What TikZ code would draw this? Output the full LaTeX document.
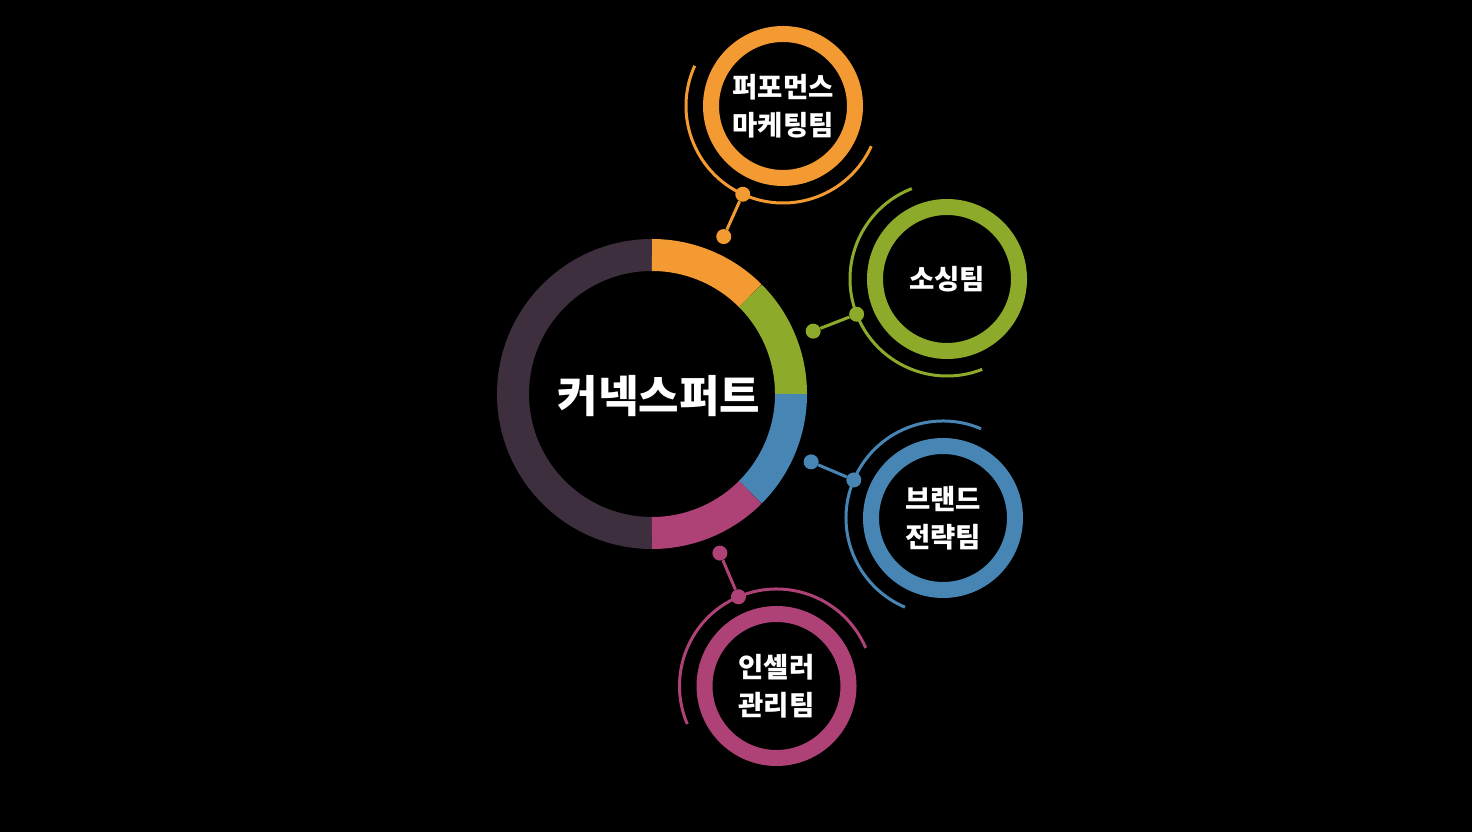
\documentclass[tikz,border=0pt]{standalone}
\usepackage{fontspec}
\newfontfamily\kr{Noto Sans CJK KR}
\usetikzlibrary{calc}
\definecolor{cOr}{HTML}{F39A32}
\definecolor{cGr}{HTML}{8DAA2A}
\definecolor{cBl}{HTML}{4786B4}
\definecolor{cMg}{HTML}{AE4276}
\definecolor{cDk}{HTML}{3D2F3E}
\tikzset{
  seg/.style={line width=32pt},
  ring/.style={circle, line width=16pt, minimum size=144pt, inner sep=0pt, text=white, align=center,
    font=\kr\bfseries\fontsize{27.5}{38.5}\selectfont},
  thinarc/.style={line width=3pt},
  dotnode/.style={circle, minimum size=15pt, inner sep=0pt, draw=none},
  title/.style={text=white, font=\kr\bfseries\fontsize{44}{50}\selectfont}
}
\begin{document}
\begin{tikzpicture}[x=1pt,y=1pt]
\fill[black] (0,0) rectangle (1472,832);
\useasboundingbox (0,0) rectangle (1472,832);
\coordinate (M) at (652,438);
% main ring segments
\draw[seg, cDk] (M) ++(90:139) arc[start angle=90, end angle=270, radius=139];
\draw[seg, cOr] (M) ++(90:139) arc[start angle=90, end angle=45, radius=139];
\draw[seg, cGr] (M) ++(45:139) arc[start angle=45, end angle=0, radius=139];
\draw[seg, cBl] (M) ++(0:139) arc[start angle=0, end angle=-45, radius=139];
\draw[seg, cMg] (M) ++(-45:139) arc[start angle=-45, end angle=-90, radius=139];
\node[title] (t) at (659,436) {커넥스퍼트};
% satellites
\foreach \n/\cx/\cy/\a/\col/\txt in {
  a/783/726/65.5/cOr/{퍼포먼스\\마케팅팀},
  b/947/553/21.3/cGr/{소싱팀},
  c/943/314/-23.1/cBl/{브랜드\\전략팀},
  d/776.5/146/-66.9/cMg/{인셀러\\관리팀}} {
  \coordinate (c\n) at (\cx,\cy);
  \node[ring, draw=\col] (s\n) at (c\n) {\txt};
  \draw[thinarc, \col] (c\n) ++(\a+90:97) arc[start angle=\a+90, end angle=\a+270, radius=97];
  \node[dotnode, fill=\col] (p\n) at ($(c\n)+(\a+180:97)$) {};
  \node[dotnode, fill=\col] (q\n) at ($(M)+(\a:173)$) {};
  \draw[thinarc, \col] (p\n) -- (q\n);
}
\end{tikzpicture}
\end{document}
